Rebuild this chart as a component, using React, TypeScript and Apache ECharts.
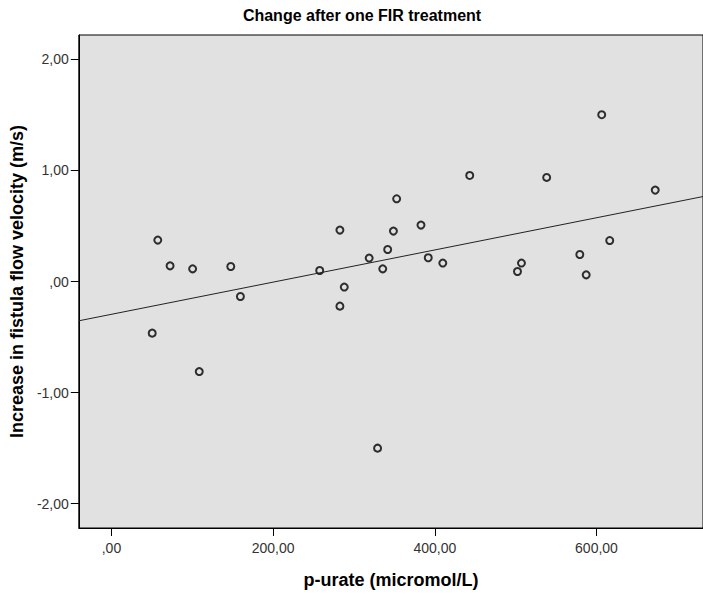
import React, { useEffect, useRef } from "react";
import * as echarts from "echarts";

const xValues = [57.3, 72.5, 100.4, 147.6, 159.5, 50.4, 108.6, 443.2, 352.8, 282.6, 348.8, 382.9, 341.7, 318.8, 335.6, 391.9, 409.9, 257.6, 288.0, 282.6, 606.5, 538.4, 672.7, 616.4, 579.4, 507.2, 502.3, 587.3, 329.2];
const yValues = [0.373, 0.141, 0.114, 0.135, -0.135, -0.465, -0.811, 0.955, 0.745, 0.463, 0.454, 0.508, 0.288, 0.211, 0.114, 0.214, 0.166, 0.099, -0.05, -0.222, 1.502, 0.937, 0.823, 0.369, 0.243, 0.166, 0.09, 0.06, -1.501];
const fitX = [-40.4, 731.8];
const fitY = [-0.354, 0.765];
const xTicks = [0, 200, 400, 600];
const yTicks = [-2, -1, 0, 1, 2];

const fmt = (v: number) => {
  let s = v.toFixed(2).replace(".", ",");
  if (s.startsWith("0,")) s = s.slice(1);
  return s;
};

export default function App() {
  const ref = useRef<HTMLDivElement>(null);
  useEffect(() => {
    document.body.style.margin = "0";
    const chart = echarts.init(ref.current!, undefined, { renderer: "svg" });
    const font = "Liberation Sans, Arial, sans-serif";
    chart.setOption({
      animation: false,
      backgroundColor: "#ffffff",
      grid: {
        left: 78,
        top: 35,
        right: -2,
        bottom: 66,
        show: true,
        backgroundColor: "#e1e1e1",
        borderColor: "#000",
        borderWidth: 1,
      },
      graphic: [
        {
          type: "text",
          x: 362,
          y: 15,
          style: {
            text: "Change after one FIR treatment",
            fontFamily: font,
            fontSize: 16,
            fontWeight: "bold",
            fill: "#000",
            align: "center",
            verticalAlign: "middle",
          },
        },
      ],
      xAxis: {
        type: "value",
        min: -40.4,
        max: 731.8,
        name: "p-urate (micromol/L)",
        nameLocation: "middle",
        nameGap: 43,
        nameTextStyle: { fontFamily: font, fontSize: 18, fontWeight: "bold", color: "#000" },
        axisLine: { show: true, onZero: false, lineStyle: { color: "#000" } },
        axisTick: { show: true, length: 8, customValues: xTicks, lineStyle: { color: "#000" } },
        axisLabel: { customValues: xTicks, formatter: fmt, fontFamily: font, fontSize: 14, color: "#333", margin: 13 },
        splitLine: { show: false },
      },
      yAxis: {
        type: "value",
        min: -2.22,
        max: 2.22,
        name: "Increase in fistula flow velocity (m/s)",
        nameLocation: "middle",
        nameGap: 52,
        nameRotate: 90,
        nameTextStyle: { fontFamily: font, fontSize: 18, fontWeight: "bold", color: "#000" },
        axisLine: { show: true, onZero: false, lineStyle: { color: "#000" } },
        axisTick: { show: true, length: 8, customValues: yTicks, lineStyle: { color: "#000" } },
        axisLabel: { customValues: yTicks, formatter: fmt, fontFamily: font, fontSize: 14, color: "#333", margin: 10 },
        splitLine: { show: false },
      },
      series: [
        {
          type: "line",
          data: fitX.map((x, i) => [x, fitY[i]]),
          symbol: "none",
          lineStyle: { color: "#222", width: 1 },
          silent: true,
        },
        {
          type: "scatter",
          data: xValues.map((x, i) => [x, yValues[i]]),
          symbol: "circle",
          symbolSize: 7,
          itemStyle: { color: "rgba(0,0,0,0)", borderColor: "#000", borderWidth: 2 },
        },
      ],
    });
    return () => chart.dispose();
  }, []);
  return <div ref={ref} style={{ position: "absolute", left: 0, top: 0, width: 703, height: 594 }} />;
}
